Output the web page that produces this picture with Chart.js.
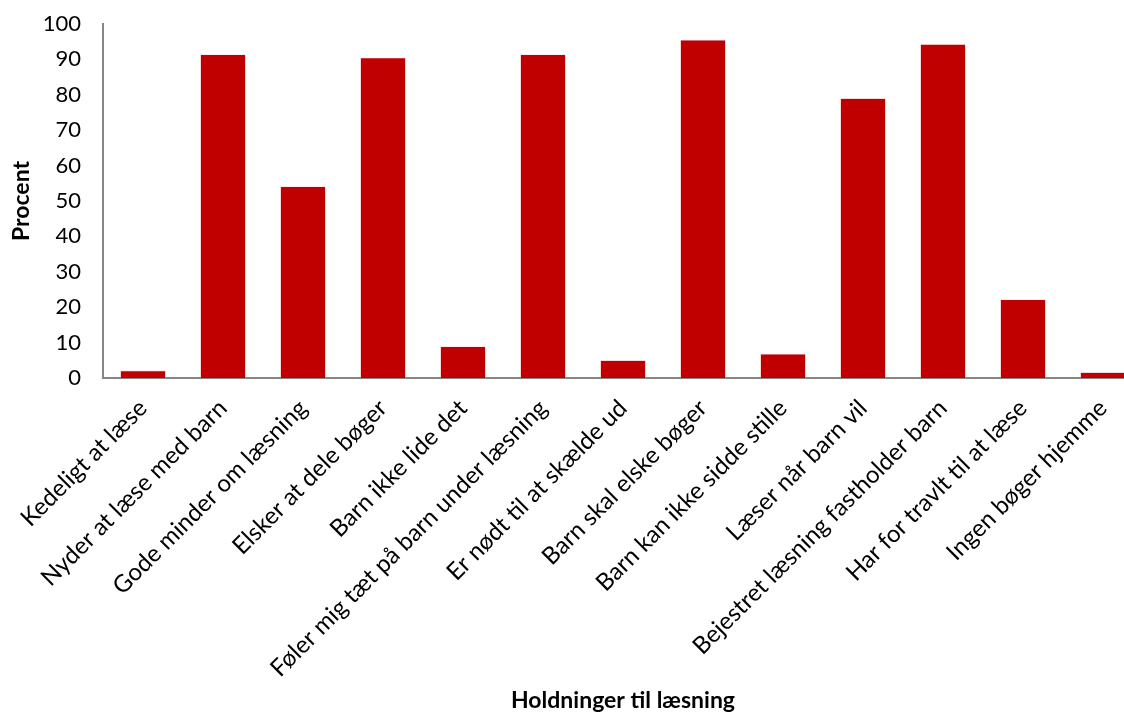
<!DOCTYPE html>
<html>
<head>
<meta charset="utf-8">
<script src="https://cdn.jsdelivr.net/npm/chart.js@4"></script>
<style>
  html, body { margin: 0; padding: 0; background: #fff; overflow: hidden; }
  #wrap { position: relative; width: 1150px; height: 714px; }
</style>
</head>
<body>
<div id="wrap"><canvas id="c"></canvas></div>
<script>
// Holdninger til læsning – andel i procent
const categories = [
  'Kedeligt at læse',
  'Nyder at læse med barn',
  'Gode minder om læsning',
  'Elsker at dele bøger',
  'Barn ikke lide det',
  'Føler mig tæt på barn under læsning',
  'Er nødt til at skælde ud',
  'Barn skal elske bøger',
  'Barn kan ikke sidde stille',
  'Læser når barn vil',
  'Bejestret læsning fastholder barn',
  'Har for travlt til at læse',
  'Ingen bøger hjemme'
];
const procent = [2.1, 91.4, 54.1, 90.5, 8.9, 91.4, 5.0, 95.5, 6.8, 79.0, 94.3, 22.2, 1.6];
const yTicks = [0, 10, 20, 30, 40, 50, 60, 70, 80, 90, 100];

const FONT = 'Lato, "Open Sans", sans-serif';
const axisGrey = '#868686';

new Chart(document.getElementById('c'), {
  type: 'bar',
  data: {
    labels: categories,
    datasets: [{
      data: procent,
      backgroundColor: '#C00000',
      borderColor: 'rgba(230,140,140,0.6)',
      borderWidth: 0.6,
      barPercentage: 0.567,
      categoryPercentage: 1.0
    }]
  },
  options: {
    responsive: true,
    maintainAspectRatio: false,
    animation: false,
    layout: { padding: { top: 0, right: 7, left: 0, bottom: 0 } },
    plugins: { legend: { display: false }, tooltip: { enabled: false } },
    scales: {
      x: {
        grid: { display: false, drawTicks: false },
        border: { display: true, color: axisGrey, width: 2 },
        ticks: {
          color: '#000',
          font: { family: FONT, size: 24 },
          minRotation: 45,
          maxRotation: 45,
          padding: 16,
          autoSkip: false
        },
        title: {
          display: true,
          text: 'Holdninger til læsning',
          color: '#000',
          font: { family: FONT, size: 23, weight: 'bold' },
          padding: { top: 0, bottom: 0 }
        },
        afterFit: (s) => { s.height = 336; }
      },
      y: {
        min: 0,
        max: 100,
        afterBuildTicks: (s) => { s.ticks = yTicks.map(v => ({ value: v })); },
        grid: { display: false, drawTicks: false },
        border: { display: true, color: axisGrey, width: 2 },
        ticks: {
          color: '#000',
          font: { family: FONT, size: 22 },
          padding: 22
        },
        title: {
          display: true,
          text: 'Procent',
          color: '#000',
          font: { family: FONT, size: 23, weight: 'bold' },
          padding: { top: 8, bottom: 0 }
        },
        afterFit: (s) => { s.width = 103; s.paddingTop = 24; s.paddingBottom = 0; }
      }
    }
  }
});
</script>
</body>
</html>
